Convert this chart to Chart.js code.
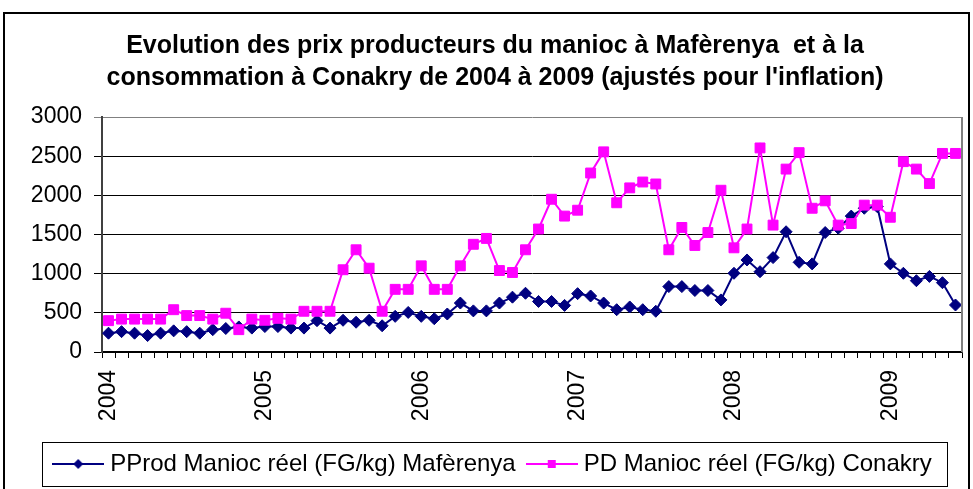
<!DOCTYPE html>
<html>
<head>
<meta charset="utf-8">
<script src="https://cdn.jsdelivr.net/npm/chart.js@4.4.1/dist/chart.umd.min.js"></script>
<style>
  html, body { margin: 0; padding: 0; background: #fff; }
</style>
</head>
<body>
<canvas id="graphique" width="973" height="489"></canvas>
<script>
// catégories : mois de janvier 2004 à juin 2009
const annees = [2004, 2005, 2006, 2007, 2008, 2009];
const mois = ["01", "02", "03", "04", "05", "06", "07", "08", "09", "10", "11", "12"];
const dernierMois2009 = 6;

const categories = [];
annees.forEach((a) => {
  mois.forEach((m, i) => {
    if (a < 2009 || i < dernierMois2009) categories.push(a + "-" + m);
  });
});

// PProd Manioc réel (FG/kg) Mafèrenya
const prixProdMaferenya = [
  240, 260, 240, 210, 240, 270, 260, 240, 285, 300, 320, 305,
  325, 325, 305, 305, 400, 305, 405, 380, 405, 335, 455, 505,
  455, 425, 485, 625, 525, 525, 625, 700, 750, 645, 645, 595,
  745, 715, 625, 540, 575, 540, 520, 835, 835, 785, 785, 665,
  1005, 1175, 1025, 1205, 1535, 1145, 1125, 1525, 1580, 1735, 1835, 1855,
  1125, 1005, 910, 965, 885, 600
];

// PD Manioc réel (FG/kg) Conakry
const prixConsoConakry = [
  400, 420, 420, 420, 420, 540, 465, 465, 420, 495, 285, 420,
  405, 430, 420, 520, 520, 520, 1050, 1305, 1070, 520, 800, 800,
  1100, 800, 800, 1100, 1375, 1450, 1040, 1015, 1305, 1570, 1950, 1735,
  1810, 2285, 2555, 1905, 2095, 2170, 2145, 1305, 1590, 1360, 1525, 2065,
  1330, 1570, 2605, 1620, 2335, 2545, 1835, 1930, 1620, 1640, 1875, 1875,
  1720, 2430, 2335, 2150, 2535, 2535
];

const graduationsY = [0, 500, 1000, 1500, 2000, 2500, 3000];

const police = "'Liberation Sans', Arial, sans-serif";
const bleu = "#000080";
const rose = "#FF00FF";

function iconeLegende(couleur, forme) {
  const c = document.createElement("canvas");
  c.width = 52;
  c.height = 16;
  const g = c.getContext("2d");
  g.strokeStyle = couleur;
  g.fillStyle = couleur;
  g.lineWidth = 2;
  g.beginPath();
  g.moveTo(0, 8);
  g.lineTo(52, 8);
  g.stroke();
  g.beginPath();
  if (forme === "losange") {
    g.moveTo(26, 3);
    g.lineTo(31, 8);
    g.lineTo(26, 13);
    g.lineTo(21, 8);
    g.closePath();
  } else {
    g.rect(22, 4, 8, 8);
  }
  g.fill();
  return c;
}
const icones = [iconeLegende(bleu, "losange"), iconeLegende(rose, "carre")];

const cadre = {
  id: "cadre",
  beforeDraw(chart) {
    const ctx = chart.ctx;
    ctx.save();
    ctx.fillStyle = "#fff";
    ctx.fillRect(0, 0, chart.width, chart.height);
    ctx.restore();
  },
  afterDraw(chart) {
    const ctx = chart.ctx;
    const a = chart.chartArea;
    ctx.save();
    ctx.strokeStyle = "#808080";
    ctx.lineWidth = 2;
    ctx.beginPath();
    ctx.moveTo(a.right, a.top);
    ctx.lineTo(a.right, a.bottom);
    ctx.stroke();

    ctx.strokeStyle = "#000";
    ctx.lineWidth = 2;
    ctx.strokeRect(4, 13, 965, 500);

    const boites = chart.legend.legendHitBoxes;
    if (boites && boites.length) {
      const p = boites[0];
      const d = boites[boites.length - 1];
      const x0 = Math.round(p.left - 16) + 0.5;
      const x1 = Math.round(d.left + d.width + 15) + 0.5;
      const y0 = Math.round(p.top - 10) + 0.5;
      const y1 = Math.round(p.top + p.height + 10) + 0.5;
      ctx.lineWidth = 1;
      ctx.strokeStyle = "#000";
      ctx.strokeRect(x0, y0, x1 - x0, y1 - y0);
    }
    ctx.restore();
  }
};

new Chart(document.getElementById("graphique"), {
  type: "line",
  data: {
    labels: categories,
    datasets: [
      {
        label: "PProd Manioc réel (FG/kg) Mafèrenya",
        data: prixProdMaferenya,
        borderColor: bleu,
        backgroundColor: bleu,
        borderWidth: 2,
        pointStyle: "rectRot",
        pointRadius: 6,
        pointBorderWidth: 1,
        tension: 0,
        order: 1,
      },
      {
        label: "PD Manioc réel (FG/kg) Conakry",
        data: prixConsoConakry,
        borderColor: rose,
        backgroundColor: rose,
        borderWidth: 2,
        pointStyle: "rect",
        pointRadius: 7,
        pointBorderWidth: 1,
        tension: 0,
        order: 0,
      },
    ],
  },
  options: {
    responsive: false,
    animation: false,
    devicePixelRatio: 1,
    layout: { padding: { left: 28, right: 11, top: 0, bottom: 3 } },
    plugins: {
      tooltip: { enabled: false },
      title: {
        display: true,
        text: [
          "Evolution des prix producteurs du manioc à Mafèrenya  et à la",
          "consommation à Conakry de 2004 à 2009 (ajustés pour l'inflation)",
        ],
        color: "#000",
        font: { family: police, size: 25, weight: "bold", lineHeight: 1.28 },
        padding: { top: 30, bottom: 23 },
      },
      legend: {
        position: "bottom",
        labels: {
          color: "#000",
          font: { family: police, size: 24 },
          usePointStyle: true,
          pointStyleWidth: 40,
          padding: 16,
          sort: (a, b) => a.datasetIndex - b.datasetIndex,
          generateLabels(chart) {
            const items = Chart.defaults.plugins.legend.labels.generateLabels(chart);
            items.forEach((it) => { it.pointStyle = icones[it.datasetIndex]; });
            return items;
          },
        },
      },
    },
    scales: {
      x: {
        offset: true,
        grid: {
          offset: true,
          drawOnChartArea: false,
          drawTicks: true,
          tickLength: 6,
          color: "#000",
        },
        border: { color: "#000", width: 1.5 },
        ticks: {
          autoSkip: false,
          minRotation: 90,
          maxRotation: 90,
          padding: 12,
          color: "#000",
          font: { family: police, size: 23 },
          callback(valeur) {
            const lib = this.getLabelForValue(valeur);
            return lib.endsWith("-01") ? lib.slice(0, 4) : "";
          },
        },
        afterFit(echelle) {
          echelle.height = 84;
          echelle.paddingLeft = 0;
          echelle.paddingRight = 0;
        },
      },
      y: {
        min: 0,
        max: 3000,
        afterBuildTicks(echelle) {
          echelle.ticks = graduationsY.map((v) => ({ value: v }));
        },
        grid: {
          color: (c) => (c.tick && c.tick.value === 3000 ? "#808080" : "#000"),
          lineWidth: 1,
          tickLength: 8,
        },
        border: { color: "#404040", width: 2 },
        ticks: {
          padding: 12,
          color: "#000",
          font: { family: police, size: 23 },
          callback: (v) => String(v),
        },
        afterFit(echelle) { echelle.width = 74; },
      },
    },
  },
  plugins: [cadre],
});
</script>
</body>
</html>
